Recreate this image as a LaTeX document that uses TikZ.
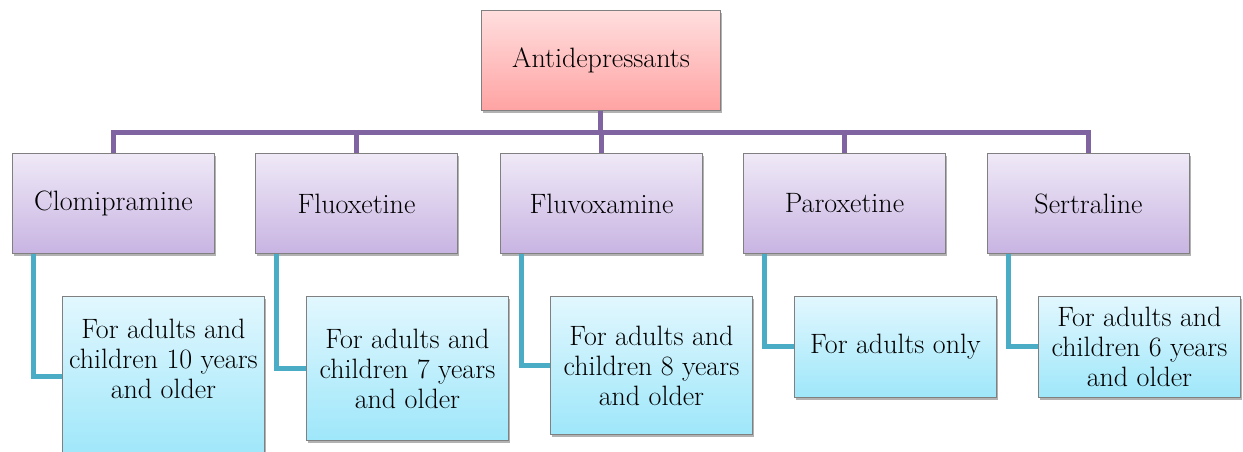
\documentclass[tikz,border=0pt]{standalone}
\usepackage{fontspec}
\usetikzlibrary{shadows}
\definecolor{rootTop}{RGB}{255,222,222}
\definecolor{rootBot}{RGB}{255,163,163}
\definecolor{drugTop}{RGB}{239,233,247}
\definecolor{drugBot}{RGB}{200,180,226}
\definecolor{ageTop}{RGB}{226,247,254}
\definecolor{ageBot}{RGB}{158,231,250}
\definecolor{boxEdge}{RGB}{128,128,128}
\definecolor{treeLine}{RGB}{128,100,162}
\definecolor{ageLine}{RGB}{75,172,198}
\newcommand{\cardfont}{\fontsize{28}{30}\selectfont}
\tikzset{
  card/.style={draw=boxEdge, line width=0.9pt, anchor=north west,
    minimum width=202pt, inner sep=0pt, align=center,
    font=\cardfont,
    drop shadow={shadow xshift=1.5pt, shadow yshift=-3pt, opacity=0.3, fill=black}},
  rootbox/.style={card, minimum width=239pt, minimum height=100pt,
    top color=rootTop, bottom color=rootBot},
  drugbox/.style={card, minimum height=100pt,
    top color=drugTop, bottom color=drugBot},
  agebox/.style={card, top color=ageTop, bottom color=ageBot},
  trunk/.style={draw=treeLine, line width=5pt},
  branch/.style={draw=ageLine, line width=5pt}
}
\begin{document}
\begin{tikzpicture}[x=1pt, y=1pt]
\useasboundingbox (0,0) rectangle (1243,-452);

% top of the tree
\node[rootbox] (root) at (481,-10) {Antidepressants};
\coordinate (hub) at ([yshift=-22pt]root.south);

% the five drugs
\node[drugbox] (clo) at (12,-153)  {Clomipramine};
\node[drugbox] (flx) at (255,-153) {Fluoxetine};
\node[drugbox] (flv) at (500,-153) {Fluvoxamine};
\node[drugbox] (par) at (743,-153) {Paroxetine};
\node[drugbox] (ser) at (987,-153) {Sertraline};

% approved age groups
\node[agebox, minimum height=160pt,
  label={[font=\cardfont, align=center, yshift=18pt]center:For adults and\\children 10 years\\and older}]
  (cloAge) at (62,-296) {};
\node[agebox, minimum height=144pt] (flxAge) at (306,-296) {For adults and\\children 7 years\\and older};
\node[agebox, minimum height=138pt] (flvAge) at (550,-296) {For adults and\\children 8 years\\and older};
\node[agebox, minimum height=101pt] (parAge) at (794,-296) {For adults only};
\node[agebox, minimum height=101pt] (serAge) at (1038,-296) {For adults and\\children 6 years\\and older};

% purple tree connectors
\draw[trunk] (root.south) -- (hub);
\foreach \d in {clo,flx,flv,par,ser}
  \draw[trunk] (hub) -| (\d.north);

% cyan elbow connectors
\foreach \d in {clo,flx,flv,par,ser}
  \draw[branch] ([xshift=21pt]\d.south west) |- (\d Age.west);
\end{tikzpicture}
\end{document}
